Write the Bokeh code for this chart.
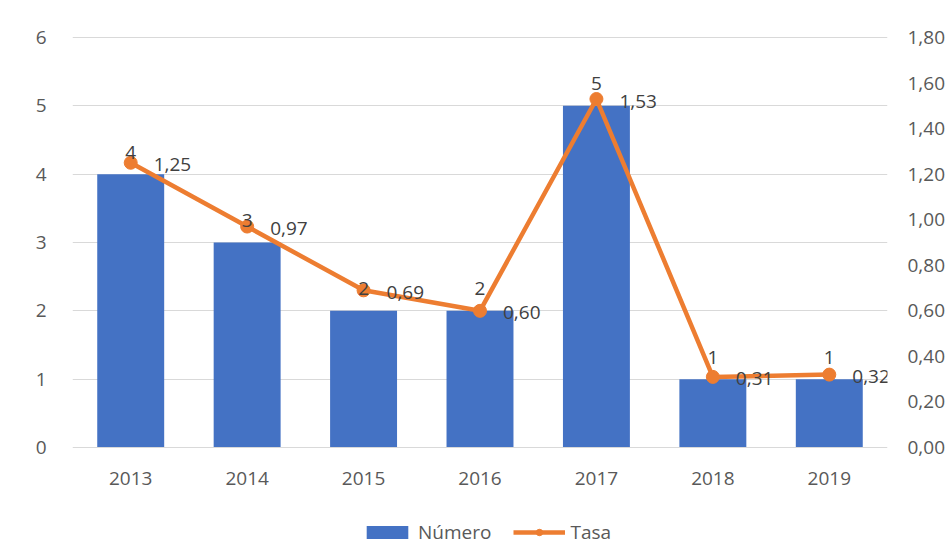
from bokeh.plotting import figure
from bokeh.models import (ColumnDataSource, FactorRange, Range1d, LinearAxis, FixedTicker,
                          CustomJSTickFormatter, Legend, LegendItem)
from bokeh.core.properties import value
from bokeh.embed import file_html
from bokeh.resources import INLINE

years = ["2013", "2014", "2015", "2016", "2017", "2018", "2019"]
numero = [4, 3, 2, 2, 5, 1, 1]
tasa = [1.25, 0.97, 0.69, 0.60, 1.53, 0.31, 0.32]

FONT = "Open Sans"
BLUE = "#4472C4"
ORANGE = "#ED7D31"
AXIS_TXT = "#595959"
LBL_TXT = "#404040"

src = ColumnDataSource(dict(
    x=years,
    numero=numero,
    tasa=tasa,
    num_lbl=[str(v) for v in numero],
    tasa_lbl=[f"{v:.2f}".replace(".", ",") for v in tasa],
))

# The frame reaches the bottom of the page; the x axis is pinned at y = 0
PX_PER_UNIT = 410 / 6.0
Y_MIN = -(556 - 447) / PX_PER_UNIT
Y_MAX = 6 + 4 / PX_PER_UNIT
RATIO = 0.3  # right axis (Tasa) units per left axis unit

p = figure(x_range=FactorRange(*years), y_range=Range1d(Y_MIN, Y_MAX),
           frame_width=815, frame_height=523,
           min_border_left=72, min_border_right=60, min_border_top=33, min_border_bottom=0,
           output_backend="svg", toolbar_location=None)
p.extra_y_ranges = {"tasa": Range1d(Y_MIN * RATIO, Y_MAX * RATIO)}
p.x_range.range_padding = 0
p.outline_line_color = None
p.background_fill_color = "white"
p.border_fill_color = "white"

# left axis
ya = p.yaxis[0]
ya.ticker = FixedTicker(ticks=[0, 1, 2, 3, 4, 5, 6])
ya.axis_line_color = None
ya.major_tick_line_color = None
ya.minor_tick_line_color = None
ya.major_label_standoff = 20
ya.major_label_text_font = FONT
ya.major_label_text_font_size = "19px"
ya.major_label_text_color = AXIS_TXT

# right axis
ra = LinearAxis(y_range_name="tasa",
                ticker=FixedTicker(ticks=[0, 0.2, 0.4, 0.6, 0.8, 1.0, 1.2, 1.4, 1.6, 1.8]),
                formatter=CustomJSTickFormatter(code="return tick.toFixed(2).replace('.', ',');"))
ra.axis_line_color = None
ra.major_tick_line_color = None
ra.minor_tick_line_color = None
ra.major_label_standoff = 14
ra.major_label_text_font = FONT
ra.major_label_text_font_size = "19px"
ra.major_label_text_color = AXIS_TXT
p.add_layout(ra, "right")

# x axis, pinned at y = 0
xa = p.xaxis[0]
xa.fixed_location = 0
xa.axis_line_color = "#d9d9d9"
xa.axis_line_width = 1
xa.major_tick_line_color = None
xa.minor_tick_line_color = None
xa.major_label_standoff = 18
xa.major_label_text_font = FONT
xa.major_label_text_font_size = "19px"
xa.major_label_text_color = AXIS_TXT

p.xgrid.grid_line_color = None
p.ygrid.ticker = FixedTicker(ticks=[1, 2, 3, 4, 5, 6])
p.ygrid.grid_line_color = "#d9d9d9"
p.ygrid.grid_line_width = 1

bars = p.vbar(x="x", top="numero", bottom=0, width=0.575, source=src,
              fill_color=BLUE, line_color=None)
line = p.line(x="x", y="tasa", y_range_name="tasa", source=src, line_color=ORANGE, line_width=4.5)
pts = p.scatter(x="x", y="tasa", y_range_name="tasa", source=src, size=13,
                fill_color=ORANGE, line_color=ORANGE)

p.text(x="x", y="numero", text="num_lbl", source=src, text_font=value(FONT),
       text_font_size="19px", text_color=LBL_TXT, text_align="center",
       text_baseline="middle", y_offset=-22)
p.text(x="x", y="tasa", text="tasa_lbl", source=src, y_range_name="tasa",
       text_font=value(FONT), text_font_size="19px", text_color=LBL_TXT,
       text_align="left", text_baseline="middle", x_offset=23, y_offset=2)

legend = Legend(items=[LegendItem(label="Número", renderers=[bars]),
                       LegendItem(label="Tasa", renderers=[line, pts])],
                orientation="horizontal", location=(289, 11),
                glyph_width=52, glyph_height=16, label_standoff=5, spacing=22,
                padding=0, margin=0, border_line_color=None, background_fill_alpha=0,
                label_text_font=FONT, label_text_font_size="19px", label_text_color=AXIS_TXT)
p.add_layout(legend, "center")

open("out.html", "w").write(file_html(p, INLINE))
